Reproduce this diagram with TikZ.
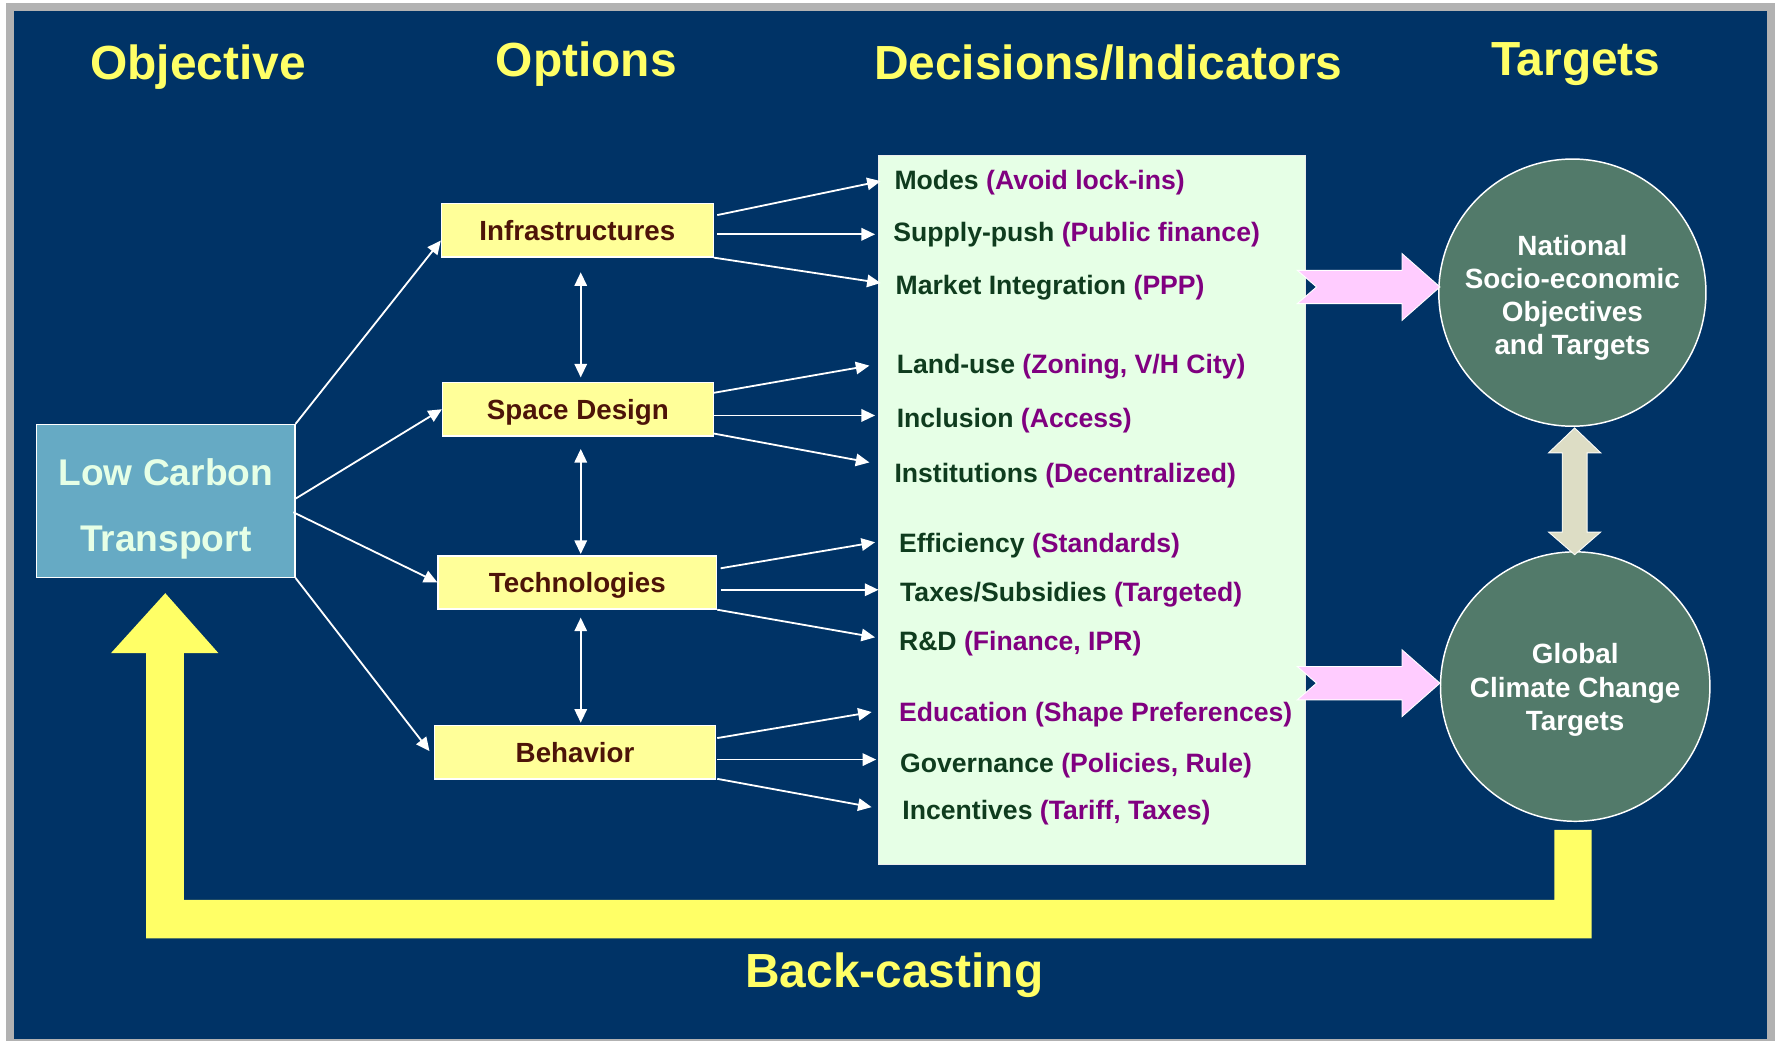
\documentclass[tikz,border=0pt]{standalone}
\usepackage{fontspec}
\setmainfont{Liberation Sans}
\usetikzlibrary{calc,arrows.meta}
\definecolor{bgblue}{RGB}{0,51,102}
\definecolor{frame}{RGB}{178,178,178}
\definecolor{ttl}{RGB}{255,255,102}
\definecolor{lctfill}{RGB}{102,170,196}
\definecolor{lcttext}{RGB}{230,255,230}
\definecolor{optfill}{RGB}{255,255,153}
\definecolor{opttext}{RGB}{77,20,8}
\definecolor{decfill}{RGB}{230,255,230}
\definecolor{dgreen}{RGB}{15,60,30}
\definecolor{purp}{RGB}{128,0,128}
\definecolor{pinkar}{RGB}{255,204,255}
\definecolor{circfill}{RGB}{82,122,106}
\definecolor{beige}{RGB}{221,221,197}
\definecolor{yel}{RGB}{255,255,102}
\begin{document}
\begin{tikzpicture}[x=1pt,y=-1pt,
  title/.style={text=ttl,anchor=base,inner sep=0,font=\fontsize{42.3}{50}\selectfont\bfseries},
  optbox/.style={fill=optfill,draw=white,line width=1.2pt,minimum height=47,inner sep=0,
     text=opttext,text height=18,text depth=0,font=\fontsize{24.5}{29}\selectfont\bfseries},
  item/.style={anchor=base west,inner sep=0,text height=17,text depth=5,text=dgreen,
     font=\fontsize{23.5}{28}\selectfont\bfseries},
  arr/.style={white,line width=1.6pt,-{Triangle[length=12pt,width=11pt]}},
  darr/.style={white,line width=1.6pt,{Triangle[length=12pt,width=11pt]}-{Triangle[length=12pt,width=11pt]}},
  circ/.style={circle,fill=circfill,draw=white,line width=1.3pt,inner sep=0},
  circtext/.style={text=white,align=center,inner sep=0,font=\fontsize{24.6}{29.3}\selectfont\bfseries},
  lcttxt/.style={text=lcttext,anchor=base,inner sep=0,font=\fontsize{32.8}{40}\selectfont\bfseries}
]
\useasboundingbox (0,0) rectangle (1568,920);
\fill[white] (0,0) rectangle (1568,920);
\fill[frame] (5,3) rectangle (1568,920);
\fill[bgblue] (12,10) rectangle (1561,918);

% titles
\node[title] (t1) at (175,70) {Objective};
\node[title] (t2) at (518,68) {Options};
\node[title] (t3) at (979,70) {Decisions/Indicators};
\node[title] (t4) at (1392,67) {Targets};
\node[title] (t5) at (790,872) {Back-casting};

% low carbon transport
\node[fill=lctfill,draw=white,line width=1.2pt,minimum width=228,minimum height=135,inner sep=0] (lct) at (146.5,442.5) {};
\node[lcttxt] (lcta) at (146.5,428.5) {Low Carbon};
\node[lcttxt] (lctb) at (146.5,487.5) {Transport};

% options
\node[optbox,minimum width=240] (infra) at (510,203.5) {Infrastructures};
\node[optbox,minimum width=239] (space) at (510.5,361.5) {Space Design};
\node[optbox,minimum width=246] (tech) at (510,514.5) {Technologies};
\node[optbox,minimum width=248] (behav) at (508,664.5) {Behavior};

% decisions box
\node[fill=decfill,draw=white!85!gray,line width=0.8pt,minimum width=377,minimum height=626,inner sep=0] (dec) at (964.5,450.5) {};

\node[item] (modes) at (790,167) {Modes \textcolor{purp}{(Avoid lock-ins)}};
\node[item] (supply) at (789,213) {Supply-push \textcolor{purp}{(Public finance)}};
\node[item] (market) at (791,260) {Market Integration \textcolor{purp}{(PPP)}};
\node[item] (land) at (792,330) {Land-use \textcolor{purp}{(Zoning, V/H City)}};
\node[item] (incl) at (792,378) {Inclusion \textcolor{purp}{(Access)}};
\node[item] (inst) at (790,426.5) {Institutions \textcolor{purp}{(Decentralized)}};
\node[item] (eff) at (794,488) {Efficiency \textcolor{purp}{(Standards)}};
\node[item] (tax) at (795,531) {Taxes/Subsidies \textcolor{purp}{(Targeted)}};
\node[item] (rd) at (794,575) {R\&D \textcolor{purp}{(Finance, IPR)}};
\node[item] (edu) at (794,637) {\textcolor{purp}{Education (Shape Preferences)}};
\node[item] (gov) at (795,682) {Governance \textcolor{purp}{(Policies, Rule)}};
\node[item] (inc) at (797,724) {Incentives \textcolor{purp}{(Tariff, Taxes)}};

% arrows from LCT
\draw[arr] (lct.north east) -- ($(infra.west)+(0,9)$);
\draw[arr] ($(lct.east)+(0,-2)$) -- (space.west);
\draw[arr] ($(lct.east)+(-2,10)$) -- (tech.west);
\draw[arr] (lct.south east) -- ($(behav.west)+(-4,-1)$);

% double arrows between options
\draw[darr] ($(infra.south)+(3,13)$) -- ($(space.north)+(2.5,-4)$);
\draw[darr] ($(space.south)+(2.5,11)$) -- ($(tech.north)+(3,-1)$);
\draw[darr] ($(tech.south)+(3,7)$) -- ($(behav.north)+(5,-2)$);

% arrows options -> items
\draw[arr] ($(infra.east)+(3,-13.5)$) -- ($(modes.west)+(-12,-1)$);
\draw[arr] ($(infra.east)+(3,3.5)$) -- ($(supply.west)+(-16,0)$);
\draw[arr] (infra.south east) -- ($(market.west)+(-13,-4)$);
\draw[arr] ($(space.east)+(0,-14.5)$) -- ($(land.west)+(-24,-1)$);
\draw[arr] ($(space.east)+(0,5.5)$) -- ($(incl.west)+(-19,-5)$);
\draw[arr] ($(space.east)+(0,21.5)$) -- ($(inst.west)+(-22,-12)$);
\draw[arr] ($(tech.east)+(3,-12.5)$) -- ($(eff.west)+(-21,-3)$);
\draw[arr] ($(tech.east)+(3,6.5)$) -- ($(tax.west)+(-19,-4)$);
\draw[arr] (tech.south east) -- ($(rd.west)+(-21,-6)$);
\draw[arr] ($(behav.east)+(1,-12.5)$) -- ($(edu.west)+(-24,-2)$);
\draw[arr] ($(behav.east)+(1,6.5)$) -- ($(gov.west)+(-21,-5)$);
\draw[arr] ($(behav.east)+(1,23.5)$) -- ($(inc.west)+(-27,-5)$);

% circles
\node[circ,minimum size=236] (nat) at (1389,258.5) {};
\node[circtext] (natt) at (1389,263) {National\\Socio-economic\\Objectives\\and Targets};
\node[circ,minimum size=238] (glob) at (1391.5,606.5) {};
\node[circtext] (globt) at (1391.5,609.5) {Global\\Climate Change\\Targets};

% pink block arrows
\foreach \yc in {253.5,603.5}{
  \filldraw[fill=pinkar,draw=white,line width=0.8pt]
    (1146,\yc-14.7) -- (1238.5,\yc-14.7) -- (1238.5,\yc-29.5) -- (1272,\yc)
    -- (1238.5,\yc+29.5) -- (1238.5,\yc+14.7) -- (1146,\yc+14.7) -- (1163,\yc) -- cycle;
}

% beige double block arrow
\filldraw[fill=beige,draw=white!90!beige,line width=0.8pt]
  (1391,378) -- (1414,400) -- (1402,400) -- (1402,470) -- (1414,470) -- (1391,490)
  -- (1368,470) -- (1380,470) -- (1380,400) -- (1368,400) -- cycle;

% back-casting yellow arrow
\fill[yel] (146,524) -- (193,577) -- (162.5,577) -- (162.5,795) -- (1373,795) -- (1373,733)
  -- (1406,733) -- (1406,829) -- (129,829) -- (129,577) -- (98,577) -- cycle;
\end{tikzpicture}
\end{document}
